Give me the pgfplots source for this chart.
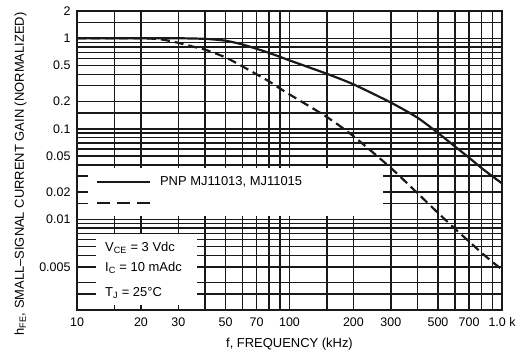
\documentclass[border=0pt]{standalone}
\usepackage{fontspec}
\setmainfont{Liberation Sans}
\usepackage{pgfplots}
\pgfplotsset{compat=1.18}
\begin{document}
\begin{tikzpicture}
\useasboundingbox (-77bp,-48bp) rectangle (441bp,310bp);
\begin{axis}[
  at={(0,0)}, anchor=south west,
  scale only axis, width=425bp, height=299bp,
  xmode=log, ymode=log,
  xmin=10, xmax=1000, ymin=0.001, ymax=2,
  xtick={10,15,20,30,40,50,60,70,80,90,100,150,200,300,400,500,600,700,800,900,1000},
  xticklabels={10,,20,30,,50,,70,,,100,,200,300,,500,,700,,,1.0 k},
  ytick={0.001,0.0015,0.002,0.003,0.004,0.005,0.006,0.007,0.008,0.009,0.01,0.015,0.02,0.03,0.04,0.05,0.06,0.07,0.08,0.09,0.1,0.15,0.2,0.3,0.4,0.5,0.6,0.7,0.8,0.9,1,1.5,2},
  yticklabels={,,,0.005,,,,,,,0.01,,0.02,,,0.05,,,,,0.1,,0.2,,,0.5,,,,,1,,2},
  minor xtick={}, minor ytick={},
  major tick length=0pt, minor tick length=0pt,
  grid=major,
  major grid style={black!90, line width=1.5bp},
  axis line style={black!90, line width=1.5bp},
  /pgf/number format/assume math mode=true,
  tick label style={font=\fontsize{12.5}{14}\selectfont},
  xticklabel style={yshift=-4bp},
  yticklabel style={xshift=-3bp},
  label style={font=\fontsize{13}{15}\selectfont},
  xlabel={f, FREQUENCY (kHz)},
  ylabel={h\textsubscript{FE}, SMALL–SIGNAL CURRENT GAIN (NORMALIZED)},
  xlabel style={at={(ticklabel cs:0.5,5bp)}},
  ylabel style={at={(ticklabel cs:0.455,6bp)}},
]
% white boxes
\fill[white] (rel axis cs:0.026,0.314) rectangle (rel axis cs:0.72,0.475);
\fill[white] (rel axis cs:0.045,0.017) rectangle (rel axis cs:0.282,0.254);
% legend
\draw[black!90, line width=1.6bp] (rel axis cs:0.047,0.428) -- (rel axis cs:0.172,0.428);
\draw[black!90, line width=1.6bp, dash pattern=on 13bp off 7bp] (rel axis cs:0.047,0.358) -- (rel axis cs:0.172,0.358);
\node[anchor=west, inner sep=0pt, font=\fontsize{13}{15}\selectfont] at (rel axis cs:0.195,0.428) {PNP MJ11013, MJ11015};
% conditions
\node[anchor=west, inner sep=0pt, font=\fontsize{13}{15}\selectfont] at (rel axis cs:0.066,0.207) {V\textsubscript{CE} = 3 Vdc};
\node[anchor=west, inner sep=0pt, font=\fontsize{13}{15}\selectfont] at (rel axis cs:0.066,0.140) {I\textsubscript{C} = 10 mAdc};
\node[anchor=west, inner sep=0pt, font=\fontsize{13}{15}\selectfont] at (rel axis cs:0.066,0.057) {T\textsubscript{J} = 25°C};
% curves
\addplot[black!90, line width=2.2bp, smooth, tension=0.4] coordinates {
 (10,1.0) (20,1.0) (30,1.0) (40,0.985) (50,0.94) (60,0.855) (70,0.765) (80,0.69) (90,0.625) (100,0.57)
 (150,0.405) (200,0.31) (300,0.195) (400,0.133) (500,0.09) (600,0.064) (700,0.048) (800,0.037) (900,0.03) (1000,0.025)
};
\addplot[black!90, line width=2.2bp, dash pattern=on 9bp off 5bp, smooth, tension=0.4] coordinates {
 (10,1.0) (20,1.0) (25,0.97) (30,0.89) (35,0.81) (40,0.75) (50,0.615) (60,0.49) (70,0.4) (80,0.335) (90,0.28) (100,0.24)
 (150,0.135) (200,0.083) (300,0.037) (400,0.0195) (500,0.0118) (600,0.0079) (700,0.0057) (800,0.0043) (900,0.0034) (1000,0.0028)
};
\end{axis}
\end{tikzpicture}
\end{document}
